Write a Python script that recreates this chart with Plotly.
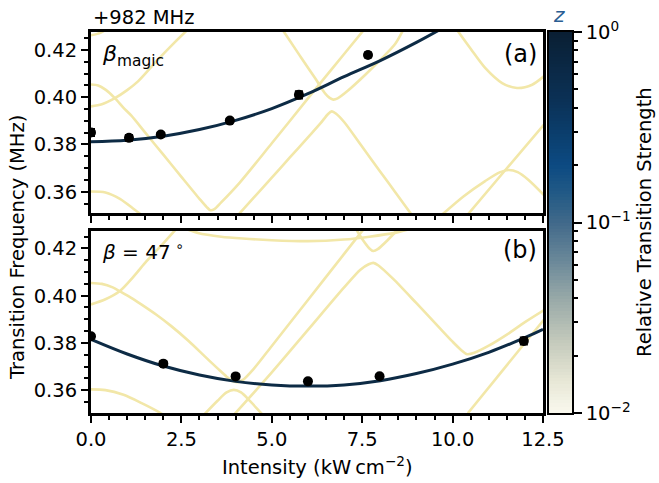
import plotly.graph_objects as go
import numpy as np

# ---------------- data ----------------
# panel (a): beta_magic
a_pts_x = [0.0, 1.05, 1.93, 3.84, 5.75, 7.66]
a_pts_y = [0.3851, 0.3828, 0.3842, 0.3901, 0.4010, 0.4179]
a_pts_err = [0.0015, 0.0012, 0.0008, 0.0008, 0.0015, 0.0010]

a_fit_x = [0, 1, 2, 3, 4, 5, 6, 7, 8, 9, 9.6]
a_fit_y = [0.3812, 0.3818, 0.3835, 0.3863, 0.3902, 0.3952, 0.4015, 0.4087, 0.4155, 0.4232, 0.4282]

# faint (weak) transitions, panel (a)
a_w1_x = [0, 0.15, 0.3, 0.45]
a_w1_y = [0.4262, 0.4267, 0.4276, 0.4290]
a_w2_x = [0, 0.3, 0.66, 1.0, 1.3, 1.85, 2.3, 2.7]
a_w2_y = [0.3961, 0.3970, 0.3996, 0.4030, 0.4067, 0.4159, 0.4230, 0.4290]
a_w3_x = [0, 0.2, 0.4, 0.66, 0.9, 1.11, 1.5, 2.0, 2.5, 3.0, 3.2, 3.3, 3.4, 3.6, 4.12, 5.0, 6.0, 6.29, 7.0, 7.6]
a_w3_y = [0.4054, 0.4050, 0.4032, 0.3996, 0.3955, 0.3923, 0.3850, 0.3757, 0.3663, 0.3570, 0.3535, 0.3522, 0.3525, 0.3555, 0.3640, 0.3805, 0.3995, 0.4050, 0.4183, 0.4295]
a_w4_x = [0, 0.4, 0.8, 1.2, 1.5]
a_w4_y = [0.3601, 0.3597, 0.3570, 0.3525, 0.3490]
a_w5_x = [5.2, 5.32, 5.8, 6.2, 6.47, 6.6, 6.7, 6.82, 7.1, 7.6, 8.0, 8.41, 8.65]
a_w5_y = [0.4305, 0.4280, 0.4170, 0.4080, 0.4017, 0.3997, 0.3990, 0.3995, 0.4027, 0.4097, 0.4158, 0.4225, 0.4290]
a_w6_x = [4.03, 4.5, 5.0, 5.5, 6.0, 6.35, 6.55, 6.66, 6.78, 7.0, 7.5, 8.0, 8.4, 8.9]
a_w6_y = [0.3495, 0.3575, 0.3660, 0.3745, 0.3830, 0.3890, 0.3928, 0.3940, 0.3930, 0.3895, 0.3790, 0.3685, 0.3601, 0.3496]
a_w7_x = [10.05, 10.5, 10.9, 11.37, 11.78, 12.2, 12.55]
a_w7_y = [0.4300, 0.4205, 0.4124, 0.4060, 0.4039, 0.4053, 0.4092]
a_w8_x = [10.4, 11.46, 12.55]
a_w8_y = [0.3500, 0.3692, 0.3888]
a_w9_x = [9.65, 10.3, 10.9, 11.3, 11.55, 11.8, 12.1, 12.55]
a_w9_y = [0.3495, 0.3580, 0.3645, 0.3682, 0.3692, 0.3683, 0.3650, 0.3582]

# panel (b): beta = 47 deg
b_pts_x = [0.0, 2.0, 4.0, 6.0, 7.98, 11.97]
b_pts_y = [0.3828, 0.3712, 0.3658, 0.3637, 0.3659, 0.3808]
b_pts_err = [0.0008, 0.0010, 0.0008, 0.0008, 0.0006, 0.0015]

b_fit_x = [0, 1, 2, 3, 4, 5, 6, 7, 8, 9, 10, 11, 12, 12.5]
b_fit_y = [0.3815, 0.3753, 0.3702, 0.3664, 0.3637, 0.3622, 0.3617, 0.3622, 0.3640, 0.3670, 0.3710, 0.3760, 0.3822, 0.3857]

b_w1_x = [0, 0.4, 0.79, 1.2, 1.53, 2.0, 2.4]
b_w1_y = [0.3963, 0.3985, 0.4019, 0.4085, 0.4145, 0.4222, 0.4290]
b_w2_x = [0, 0.3, 0.6, 0.79, 1.1, 1.39, 1.8, 2.22, 2.7, 3.14, 3.5, 3.75, 3.92, 4.05, 4.2, 4.5, 5.0, 6.0, 7.0, 7.5, 7.6]
b_w2_y = [0.4054, 0.4050, 0.4035, 0.4019, 0.3992, 0.3963, 0.3920, 0.3871, 0.3808, 0.3744, 0.3692, 0.3657, 0.3638, 0.3634, 0.3643, 0.3690, 0.3787, 0.3982, 0.4177, 0.4274, 0.4293]
b_w3_x = [0, 0.4, 0.9, 1.4, 1.9, 2.05]
b_w3_y = [0.3603, 0.3600, 0.3580, 0.3545, 0.3505, 0.3490]
b_w4_x = [3.12, 3.5, 3.75, 3.95, 4.15, 4.4, 4.75]
b_w4_y = [0.3495, 0.3555, 0.3590, 0.3601, 0.3590, 0.3553, 0.3495]
b_w5_x = [3.95, 5.0, 6.0, 7.0, 7.45, 7.68, 7.81, 7.95, 8.35, 9.0, 9.6, 10.0, 10.25, 10.4, 10.6, 11.0, 11.5, 12.0, 12.56]
b_w5_y = [0.3495, 0.3675, 0.3855, 0.4035, 0.4110, 0.4133, 0.4139, 0.4128, 0.4072, 0.3968, 0.3870, 0.3805, 0.3768, 0.3752, 0.3758, 0.3788, 0.3835, 0.3888, 0.3942]
b_w6_x = [7.28, 7.5, 7.7, 7.81, 7.93, 8.2, 8.45, 8.55]
b_w6_y = [0.4295, 0.4240, 0.4200, 0.4189, 0.4197, 0.4235, 0.4275, 0.4292]
b_w7_x = [2.5, 2.96, 3.6, 4.2, 5.0, 6.0, 7.0, 7.7, 8.4, 9.0]
b_w7_y = [0.4290, 0.4266, 0.4250, 0.4242, 0.4235, 0.4231, 0.4238, 0.4250, 0.4266, 0.4290]
b_w8_x = [10.42, 12.56]
b_w8_y = [0.3502, 0.3905]

x_ticks = [0.0, 2.5, 5.0, 7.5, 10.0, 12.5]
y_ticks = [0.36, 0.38, 0.40, 0.42]
cb_tickvals = [0.01, 0.1, 1]
cb_ticktext = ["10<sup>\u22122</sup>", "10<sup>\u22121</sup>", "10<sup>0</sup>"]

# ---------------- style ----------------
FONT = "DejaVu Sans"
YEL = "#f2e7a8"
NAVY = "#0d2b45"
CSCALE = [[0, "#faf9ee"], [0.087, "#e6e6d5"], [0.19, "#c3c9bb"], [0.3, "#98a9a8"],
          [0.4, "#6a8899"], [0.5, "#41698a"], [0.57, "#245b86"], [0.65, "#0c4a82"],
          [0.74, "#0b3d6b"], [0.82, "#0b3156"], [1, "#0a1f33"]]

fig = go.Figure()

weak_a = [(a_w1_x, a_w1_y), (a_w2_x, a_w2_y), (a_w3_x, a_w3_y), (a_w4_x, a_w4_y),
          (a_w5_x, a_w5_y), (a_w6_x, a_w6_y), (a_w7_x, a_w7_y), (a_w8_x, a_w8_y), (a_w9_x, a_w9_y)]
weak_b = [(b_w1_x, b_w1_y), (b_w2_x, b_w2_y), (b_w3_x, b_w3_y), (b_w4_x, b_w4_y),
          (b_w5_x, b_w5_y), (b_w6_x, b_w6_y), (b_w7_x, b_w7_y), (b_w8_x, b_w8_y)]

for (xs, ys) in weak_a:
    fig.add_trace(go.Scatter(x=xs, y=ys, mode="lines", xaxis="x", yaxis="y",
                             line=dict(color=YEL, width=2.6, shape="spline", smoothing=0.8),
                             hoverinfo="skip", showlegend=False))
for (xs, ys) in weak_b:
    fig.add_trace(go.Scatter(x=xs, y=ys, mode="lines", xaxis="x2", yaxis="y2",
                             line=dict(color=YEL, width=2.6, shape="spline", smoothing=0.8),
                             hoverinfo="skip", showlegend=False))

fig.add_trace(go.Scatter(x=a_fit_x, y=a_fit_y, mode="lines", xaxis="x", yaxis="y",
                         line=dict(color=NAVY, width=3, shape="spline"), showlegend=False))
fig.add_trace(go.Scatter(x=b_fit_x, y=b_fit_y, mode="lines", xaxis="x2", yaxis="y2",
                         line=dict(color=NAVY, width=3, shape="spline"), showlegend=False))

for xs, ys, es, xa, ya in [(a_pts_x, a_pts_y, a_pts_err, "x", "y"),
                           (b_pts_x, b_pts_y, b_pts_err, "x2", "y2")]:
    fig.add_trace(go.Scatter(x=xs, y=ys, mode="markers", xaxis=xa, yaxis=ya,
                             marker=dict(color="black", size=10),
                             error_y=dict(type="data", array=es, color="black", thickness=2, width=4),
                             showlegend=False))

# colour bar drawn as a heatmap on a log axis
N = 120
cb_edges = np.logspace(-2, 0, N + 1)
cb_z = [[(np.log10(cb_edges[i]) + np.log10(cb_edges[i + 1])) / 2] for i in range(N)]
fig.add_trace(go.Heatmap(x=[0, 1], y=cb_edges, z=cb_z, zmin=-2, zmax=0, colorscale=CSCALE,
                         showscale=False, xaxis="x3", yaxis="y3", hoverinfo="skip"))

# ---------------- layout ----------------
W, H = 659, 483
L, R, T, B = 91, 87, 32, 70
pw, ph = W - L - R, H - T - B
main_dom = [0, (543 - L) / pw]
cb_dom = [(549 - L) / pw, 1]
top_dom = [(413 - 213) / ph, 1]
bot_dom = [0, (413 - 231) / ph]

axcommon = dict(showline=True, mirror=True, linewidth=3, linecolor="black", showgrid=False,
                zeroline=False, ticks="outside", ticklen=7, tickwidth=2, tickcolor="black",
                tickfont=dict(family=FONT, size=19.5, color="black"))
xminor = dict(dtick=0.5, tick0=0, ticks="outside", ticklen=4, tickwidth=1.5, tickcolor="black")
yminor = dict(dtick=0.005, tick0=0, ticks="outside", ticklen=4, tickwidth=1.5, tickcolor="black")

fig.update_layout(
    width=W, height=H, margin=dict(l=L, r=R, t=T, b=B),
    paper_bgcolor="white", plot_bgcolor="white",
    font=dict(family=FONT, size=19.5, color="black"),
    xaxis=dict(domain=main_dom, anchor="y", range=[0, 12.5], tickmode="array", tickvals=x_ticks,
               showticklabels=False, minor=xminor, **axcommon),
    yaxis=dict(domain=top_dom, anchor="x", range=[0.3510, 0.4276], tickmode="array", tickvals=y_ticks,
               tickformat=".2f", minor=yminor, **axcommon),
    xaxis2=dict(domain=main_dom, anchor="y2", range=[0, 12.5], tickmode="array", tickvals=x_ticks,
                tickformat=".1f", minor=xminor, **axcommon),
    yaxis2=dict(domain=bot_dom, anchor="x2", range=[0.3503, 0.4274], tickmode="array", tickvals=y_ticks,
                tickformat=".2f", minor=yminor, **axcommon),
    xaxis3=dict(domain=cb_dom, anchor="y3", range=[0, 1], showticklabels=False, ticks="",
                showline=True, mirror=True, linewidth=1.5, linecolor="black", showgrid=False, zeroline=False),
    yaxis3=dict(domain=[0, 1], anchor="x3", type="log", range=[-2, 0], side="right",
                tickmode="array", tickvals=cb_tickvals, ticktext=cb_ticktext,
                ticks="outside", ticklen=8, tickwidth=2, tickcolor="black",
                tickfont=dict(family=FONT, size=19.5, color="black"),
                minor=dict(tickmode="array",
                           tickvals=[k * 0.01 for k in range(2, 10)] + [k * 0.1 for k in range(2, 10)],
                           ticks="outside", ticklen=4, tickwidth=1.5, tickcolor="black"),
                showline=True, mirror=True, linewidth=1.5, linecolor="black", showgrid=False, zeroline=False),
)

ann = []
ann.append(dict(text="+982 MHz", xref="paper", yref="paper", x=0, y=(413 - 17) / ph,
                xanchor="left", yanchor="middle", showarrow=False, font=dict(size=19.5)))
ann.append(dict(text="<i>\u03b2</i><sub>magic</sub>", xref="x domain", yref="y domain", x=0.02, y=0.87,
                xanchor="left", yanchor="middle", showarrow=False, font=dict(size=22)))
ann.append(dict(text="(a)", xref="x domain", yref="y domain", x=0.992, y=0.878,
                xanchor="right", yanchor="middle", showarrow=False, font=dict(size=24)))
ann.append(dict(text="<i>\u03b2</i> = 47<sup> \u2218</sup>", xref="x2 domain", yref="y2 domain", x=0.02, y=0.89,
                xanchor="left", yanchor="middle", showarrow=False, font=dict(size=20)))
ann.append(dict(text="(b)", xref="x2 domain", yref="y2 domain", x=0.992, y=0.896,
                xanchor="right", yanchor="middle", showarrow=False, font=dict(size=24)))
ann.append(dict(text="Transition Frequency (MHz)", xref="paper", yref="paper",
                x=(17 - L) / pw, y=(413 - 248) / ph, textangle=-90,
                xanchor="center", yanchor="middle", showarrow=False, font=dict(size=19.5)))
ann.append(dict(text="Intensity (kW\u2009cm<sup>\u22122</sup>)", xref="paper", yref="paper",
                x=(317 - L) / pw, y=(413 - 466) / ph,
                xanchor="center", yanchor="middle", showarrow=False, font=dict(size=19.5)))
ann.append(dict(text="Relative Transition Strength", xref="paper", yref="paper",
                x=(644 - L) / pw, y=(413 - 222) / ph, textangle=-90,
                xanchor="center", yanchor="middle", showarrow=False, font=dict(size=19.5)))
ann.append(dict(text="<i>z</i>", xref="paper", yref="paper",
                x=(559 - L) / pw, y=(413 - 15) / ph,
                xanchor="center", yanchor="middle", showarrow=False, font=dict(size=20, color="#2a5d92")))
fig.update_layout(annotations=ann)

fig.write_html("out.html", config={"displayModeBar": False},
               post_script="document.body.style.margin='0px';document.body.style.padding='0px';")
